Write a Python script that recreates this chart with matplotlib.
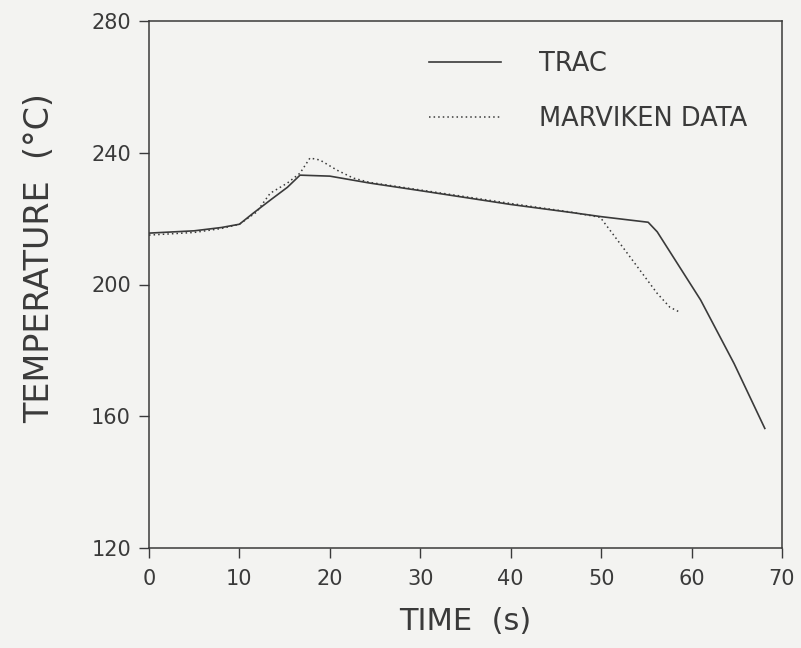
import matplotlib
matplotlib.use("Agg")
import matplotlib.pyplot as plt

# TRAC calculation (solid)
trac_t = [0, 5, 8, 10, 11.5, 13.5, 15.3, 16.7, 20, 24.4, 30, 40, 46.6, 50, 55.2, 56.2, 61, 64.7, 68.1]
trac_T = [215.6, 216.3, 217.3, 218.3, 221.6, 225.8, 229.5, 233.2, 232.9, 230.8, 228.5, 224.3, 221.9, 220.6, 218.9, 216.0, 195.3, 176.0, 156.3]

# Marviken measurements (dotted)
mdata_t = [0, 5, 8, 10, 11.9, 13.4, 15.3, 16.7, 17.8, 18.9, 20.8, 22.6, 24.4, 30, 40, 46.6, 49.9, 52.4, 54.3, 56.2, 57.6, 58.7]
mdata_T = [215.0, 215.8, 217.0, 218.3, 222.0, 227.7, 230.8, 233.8, 238.4, 237.8, 234.7, 232.3, 231.0, 228.7, 224.6, 222.0, 220.4, 211.3, 204.3, 197.3, 193.1, 191.6]

xticks = [0, 10, 20, 30, 40, 50, 60, 70]
yticks = [120, 160, 200, 240, 280]

bg = "#f3f3f1"
ink = "#3a3a3a"

fig = plt.figure(figsize=(8.01, 6.48), dpi=100, facecolor=bg)
ax = fig.add_axes([149 / 801, 1 - 548 / 648, 633 / 801, 527 / 648], facecolor=bg)

ax.plot(trac_t, trac_T, color=ink, lw=1.2, label="TRAC")
ax.plot(mdata_t, mdata_T, color=ink, lw=1.1, linestyle=(0, (1, 2)), label="MARVIKEN DATA")

ax.set_xlim(0, 70)
ax.set_ylim(120, 280)
ax.set_xticks(xticks)
ax.set_yticks(yticks)
ax.tick_params(axis="both", direction="out", length=7, width=1, color=ink,
               labelcolor=ink, labelsize=15)
ax.tick_params(axis="x", pad=8)
ax.tick_params(axis="y", pad=6)
for s in ax.spines.values():
    s.set_color(ink)
    s.set_linewidth(1.1)

ax.set_xlabel("TIME  (s)", fontsize=22, color=ink, labelpad=13)
ax.set_ylabel("TEMPERATURE  (°C)", fontsize=24, color=ink)
ax.yaxis.set_label_coords(-0.147, 0.55)

leg = ax.legend(loc="upper left", bbox_to_anchor=(0.406, 0.987), frameon=False,
                fontsize=18.5, handlelength=2.8, handletextpad=1.48, labelspacing=1.14)
for t in leg.get_texts():
    t.set_color(ink)

fig.savefig("out.png", dpi=100, facecolor=bg)
